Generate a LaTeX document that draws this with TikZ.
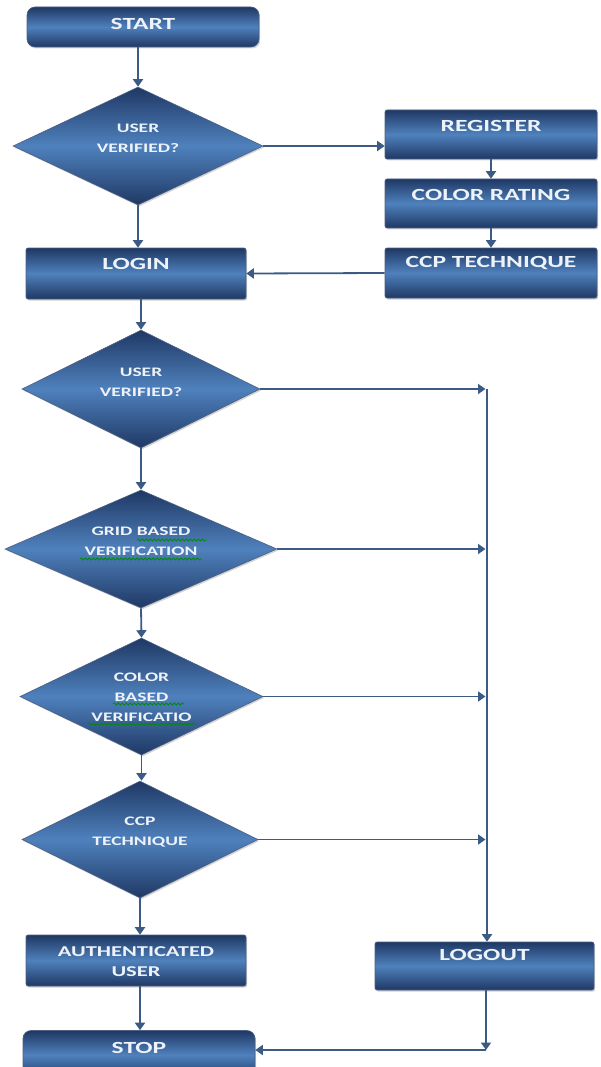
\documentclass[tikz,border=0pt]{standalone}
\usepackage{fontspec}
\newfontfamily\boxfont[FakeStretch=1.5]{Carlito}
\usetikzlibrary{shapes.geometric,arrows.meta,shadows,decorations.pathmorphing}
\definecolor{dk}{HTML}{1F3864}
\definecolor{md}{HTML}{4F81BD}
\definecolor{ln}{HTML}{3B5B85}
\definecolor{tx}{HTML}{EEF3FA}
\begin{document}
\begin{tikzpicture}[x=1pt,y=-1pt,
  boxbase/.style={draw=dk!80, line width=0.6pt, top color=dk, bottom color=dk, middle color=md,
    drop shadow={shadow xshift=1.2pt,shadow yshift=-1.5pt,opacity=0.35}, inner sep=0pt},
  procbox/.style={boxbase, rectangle, rounded corners=2pt},
  termbox/.style={boxbase, rectangle, rounded corners=8pt},
  decbox/.style={boxbase, diamond},
  btext/.style={text=tx, font=\boxfont\bfseries\fontsize{17}{20}\selectfont, align=center, inner sep=0pt},
  dtext/.style={text=tx, font=\boxfont\bfseries\fontsize{13}{20}\selectfont, align=center, inner sep=0pt},
  conn/.style={draw=ln, line width=1.8pt},
  arr/.style={conn, -{Triangle[width=10pt,length=7.5pt]}},
  squig/.style={draw=green!55!black, line width=0.8pt, decorate, decoration={snake, amplitude=1pt, segment length=4pt}}
]
\useasboundingbox (0,0) rectangle (600,1067);
\clip (0,0) rectangle (600,1067);

% boxes
\node[termbox, minimum width=232pt, minimum height=40pt] (start) at (143,27) {};
\node[btext] (startt) at ([yshift=3pt]start.center) {START};

\node[decbox, minimum width=250pt, minimum height=118pt] (d1) at (138,146) {};
\node[dtext] (d1t) at ([yshift=7.5pt]d1.center) {USER\\VERIFIED?};

\node[procbox, minimum width=212pt, minimum height=49pt] (register) at (491,134.5) {};
\node[btext] (registert) at ([yshift=8.5pt]register.center) {REGISTER};

\node[procbox, minimum width=212pt, minimum height=49pt] (color) at (491,203.5) {};
\node[btext] (colort) at ([yshift=8.5pt]color.center) {COLOR RATING};

\node[procbox, minimum width=212pt, minimum height=50pt] (ccp) at (491,273) {};
\node[btext] (ccpt) at ([yshift=10pt]ccp.center) {CCP TECHNIQUE};

\node[procbox, minimum width=220pt, minimum height=51pt] (login) at (136,273.5) {};
\node[btext] (logint) at ([yshift=10pt]login.center) {LOGIN};

\node[decbox, minimum width=238pt, minimum height=118pt] (d2) at (141,389) {};
\node[dtext] (d2t) at ([yshift=7pt]d2.center) {USER\\VERIFIED?};

\node[decbox, minimum width=272pt, minimum height=118pt] (d3) at (141,549) {};
\node[dtext] (d3t) at ([yshift=7.5pt]d3.center) {GRID BASED\\VERIFICATION};

\node[decbox, minimum width=243pt, minimum height=117pt] (d4) at (141.5,696.5) {};
\node[dtext] (d4t) at ([yshift=-1pt]d4.center) {COLOR\\BASED\\VERIFICATIO};

\node[decbox, minimum width=236pt, minimum height=117pt] (d5) at (140,839.5) {};
\node[dtext] (d5t) at ([yshift=7.5pt]d5.center) {CCP\\TECHNIQUE};

\node[procbox, minimum width=220pt, minimum height=51pt] (auth) at (136,960.5) {};
\node[btext, font=\boxfont\bfseries\fontsize{15}{20}\selectfont] (autht) at ([yshift=-1.5pt]auth.center) {AUTHENTICATED\\USER};

\node[termbox, minimum width=232pt, minimum height=49pt] (stop) at (139,1055) {};
\node[btext] (stopt) at ([yshift=7pt]stop.center) {STOP};

\node[procbox, minimum width=219pt, minimum height=48pt] (logout) at (484.5,966) {};
\node[btext] (logoutt) at ([yshift=11pt]logout.center) {LOGOUT};

% spell-check squiggles
\draw[squig] (137,540) -- (207,540);
\draw[squig] (80,559) -- (202,559);
\draw[squig] (113,704) -- (184,704);
\draw[squig] (88,724) -- (195,724);

% bus coordinates
\coordinate (bus) at (487,389);
\coordinate (bend) at (486,1050);

% connectors
\draw[arr] (d1.north |- start.south) -- (d1.north);
\draw[arr] (d1.east) -- (d1.east -| register.west);
\draw[arr] (register.south) -- (color.north);
\draw[arr] (color.south) -- (ccp.north);
\draw[arr] (ccp.west) -- (login.east);
\draw[arr] (d1.south) -- (d1.south |- login.north);
\draw[arr] (d2.north |- login.south) -- (d2.north);
\draw[arr] (d2.south) -- (d3.north);
\draw[arr] (d3.south) -- (d4.north);
\draw[arr] (d4.south) -- (d4.south |- d5.north);
\draw[arr] (d5.south) -- (d5.south |- auth.north);
\draw[arr] (d5.south |- auth.south) -- (d5.south |- stop.north);

\draw[arr, shorten >=1.5pt] (d2.east) -- (d2.east -| bus);
\draw[arr, shorten >=1.5pt] (d3.east) -- (d3.east -| bus);
\draw[arr, shorten >=1.5pt] (d4.east) -- (d4.east -| bus);
\draw[arr, shorten >=1.5pt] (d5.east) -- (d5.east -| bus);
\draw[arr] (bus) -- (bus |- logout.north);
\draw[arr] (bend |- logout.south) -- (bend);
\draw[arr] (bend) -- (bend -| stop.east);
\end{tikzpicture}
\end{document}
